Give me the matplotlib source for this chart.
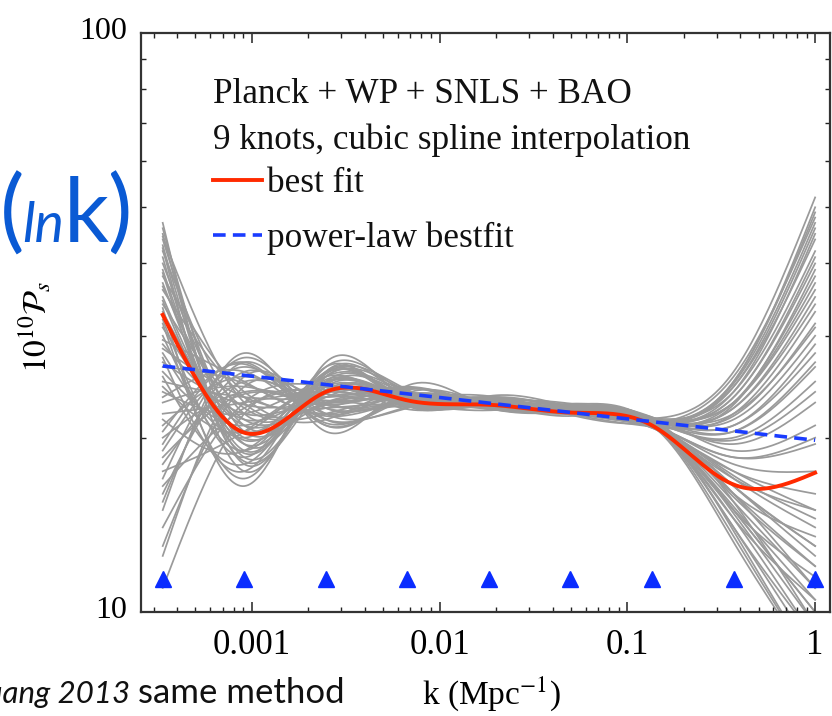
import numpy as np
import matplotlib
matplotlib.use("Agg")
import matplotlib.pyplot as plt
import matplotlib.transforms as mtransforms
from matplotlib.ticker import LogLocator, NullFormatter, FixedLocator, FixedFormatter

# knot positions, ln k  (9 knots)
knot_lnk = [-8, -7, -6, -5, -4, -3, -2, -1, 0]

# best fit knot values, 10^10 P_s
best_fit = [32.6, 20.4, 24.0, 23.2, 22.8, 22.1, 21.0, 16.6, 17.4]

# power-law bestfit, end points
powerlaw_k = [np.exp(-8), 1.0]
powerlaw_P = [26.6, 19.8]

# knot values of the sampled curves (grey)
gray_knots = [
    [47.0, 18.0, 25.5, 23.0, 22.8, 22.2, 21.2, 24.5, 46.0],
    [45.0, 18.5, 25.0, 23.4, 22.6, 22.4, 21.0, 16.0, 12.0],
    [43.0, 19.0, 25.8, 22.8, 23.0, 22.0, 21.4, 22.0, 31.0],
    [41.0, 18.2, 24.6, 23.8, 22.9, 22.5, 21.1, 15.0, 10.0],
    [39.0, 19.5, 24.8, 23.2, 23.2, 22.1, 21.3, 25.0, 50.0],
    [37.0, 20.0, 24.2, 23.6, 22.7, 22.6, 21.0, 17.0, 15.0],
    [35.0, 20.5, 25.2, 22.9, 23.1, 22.3, 21.5, 23.0, 36.0],
    [33.0, 21.0, 23.8, 24.0, 22.6, 22.2, 20.9, 14.5, 9.0],
    [31.0, 21.5, 24.0, 23.1, 23.4, 22.7, 21.3, 20.0, 25.0],
    [29.0, 22.0, 23.5, 23.5, 22.9, 22.0, 21.2, 16.5, 13.0],
    [27.0, 22.8, 23.0, 23.3, 23.0, 22.4, 21.6, 24.0, 42.0],
    [25.0, 23.5, 23.2, 22.6, 22.8, 22.5, 21.0, 15.5, 11.0],
    [23.0, 24.5, 22.8, 23.9, 22.5, 22.1, 21.4, 21.0, 28.0],
    [21.0, 25.5, 22.5, 23.0, 23.3, 22.3, 21.1, 18.0, 17.5],
    [19.0, 26.5, 22.0, 24.2, 22.7, 22.6, 21.3, 23.5, 40.0],
    [17.0, 27.5, 21.5, 23.4, 23.0, 22.0, 21.0, 14.0, 8.5],
    [15.5, 27.0, 21.0, 23.7, 22.4, 22.8, 21.5, 22.5, 34.0],
    [16.0, 26.0, 22.0, 22.5, 23.2, 22.2, 20.8, 17.5, 16.0],
    [18.0, 25.0, 22.8, 23.2, 23.6, 21.9, 21.2, 25.5, 48.0],
    [20.0, 24.0, 23.5, 24.5, 22.8, 22.5, 21.4, 16.0, 13.5],
    [22.0, 23.0, 24.0, 23.0, 22.3, 22.9, 21.7, 19.5, 23.0],
    [24.0, 22.0, 24.5, 22.4, 23.0, 22.3, 21.1, 15.0, 11.5],
    [26.0, 21.0, 25.0, 23.6, 23.5, 22.0, 20.9, 22.0, 33.0],
    [28.0, 20.0, 25.5, 24.0, 22.7, 22.6, 21.3, 14.5, 10.5],
    [30.0, 19.0, 26.0, 23.2, 22.9, 22.4, 21.6, 26.0, 52.0],
    [32.0, 18.5, 26.5, 22.7, 23.3, 22.1, 21.0, 17.0, 14.0],
    [34.0, 22.5, 22.0, 23.5, 23.0, 22.7, 21.2, 23.0, 38.0],
    [36.0, 23.5, 21.5, 24.3, 22.5, 22.2, 21.5, 15.5, 9.5],
    [11.0, 22.0, 23.8, 23.1, 22.8, 22.4, 21.3, 20.5, 27.0],
    [13.0, 24.5, 23.0, 22.8, 23.1, 22.0, 21.0, 18.5, 19.5],
    [44.0, 20.5, 24.0, 23.6, 22.6, 22.5, 21.4, 24.5, 44.0],
    [40.0, 21.0, 23.0, 23.3, 23.4, 22.3, 21.1, 16.5, 12.5],
    [15.0, 28.0, 20.5, 24.6, 22.6, 22.4, 21.6, 21.5, 30.0],
    [19.5, 27.0, 21.0, 23.9, 23.0, 22.8, 21.2, 13.5, 8.0],
    [23.5, 26.0, 21.5, 22.6, 22.9, 22.1, 21.5, 23.0, 37.0],
    [27.5, 17.5, 26.5, 23.8, 23.0, 22.3, 20.8, 17.5, 15.0],
    [31.5, 17.0, 26.0, 22.9, 23.6, 22.6, 21.3, 24.0, 45.0],
    [25.5, 18.0, 25.8, 24.2, 22.4, 22.0, 21.0, 15.0, 10.0],
    [21.5, 19.0, 25.0, 23.4, 23.1, 22.9, 21.4, 22.5, 35.0],
    [17.5, 20.5, 24.5, 22.7, 22.8, 22.2, 21.7, 19.0, 21.0],
    [38.0, 24.0, 22.5, 23.0, 23.2, 22.4, 21.1, 14.0, 9.0],
    [42.0, 22.0, 23.5, 24.0, 22.7, 22.6, 21.3, 25.0, 49.0],
    [46.0, 19.5, 24.5, 23.3, 23.0, 22.3, 21.2, 16.0, 11.0],
    [29.5, 25.0, 22.0, 23.7, 22.6, 22.1, 21.5, 21.0, 29.0],
    [33.5, 16.5, 27.0, 23.2, 23.3, 22.5, 21.0, 16.5, 13.0],
    [14.0, 23.0, 24.5, 23.5, 22.9, 22.0, 21.4, 23.5, 41.0],
    [42.5, 17.5, 26.0, 23.4, 22.9, 22.3, 21.1, 18.5, 20.0],
    [36.5, 21.5, 23.0, 23.0, 23.1, 22.5, 21.4, 13.8, 8.0],
    [24.5, 20.5, 25.5, 22.9, 22.7, 22.2, 21.2, 14.8, 9.5],
    [18.5, 23.8, 23.0, 23.8, 22.9, 22.6, 21.3, 15.8, 12.0],
    [12.5, 25.5, 22.5, 23.4, 23.0, 22.1, 21.0, 22.8, 39.0],
    [28.5, 23.5, 22.5, 24.4, 22.5, 22.8, 21.6, 20.5, 26.5],
    [34.5, 19.8, 24.5, 23.0, 23.5, 22.4, 21.2, 24.8, 47.0],
    [20.5, 26.8, 21.2, 23.6, 22.8, 22.3, 21.1, 17.2, 14.5],
    [38.5, 18.8, 25.5, 24.1, 22.8, 21.8, 21.0, 13.2, 8.0],
    [26.5, 24.8, 21.8, 23.2, 23.2, 22.7, 21.5, 21.8, 31.5],
    [16.5, 22.5, 24.2, 22.9, 22.6, 22.4, 21.3, 19.8, 24.0],
    [44.5, 23.0, 22.8, 23.7, 22.6, 22.0, 20.9, 15.2, 10.5],
]

# triangles marking the knots sit at this level
knot_marker_P = 11.4

x_ticks = [0.001, 0.01, 0.1, 1]
x_ticklabels = ["0.001", "0.01", "0.1", "1"]
y_ticks = [10, 100]
y_ticklabels = ["10", "100"]


def cubic_spline(lnk, vals, n_per=40):
    # natural cubic spline through the knots (in ln k, ln P)
    x = np.asarray(lnk, float)
    y = np.log(np.asarray(vals, float))
    m = len(y)
    h = x[1] - x[0]
    A = np.zeros((m, m))
    b = np.zeros(m)
    A[0, 0] = A[-1, -1] = 1
    for i in range(1, m - 1):
        A[i, i - 1:i + 2] = [1, 4, 1]
        b[i] = 6 * (y[i + 1] - 2 * y[i] + y[i - 1]) / h**2
    M = np.linalg.solve(A, b)
    t = np.linspace(0, m - 1, (m - 1) * n_per + 1)
    i = np.minimum(t.astype(int), m - 2)
    u = t - i
    s = (1 - u) * y[i] + u * y[i + 1] + h**2 * (((1 - u)**3 - (1 - u)) * M[i] + (u**3 - u) * M[i + 1]) / 6
    return np.exp(x[0] + t * h), np.exp(s)


plt.rcParams['font.family'] = ['Liberation Serif', 'DejaVu Serif']
plt.rcParams['mathtext.fontset'] = 'stix'

fig = plt.figure(figsize=(8.32, 7.16), dpi=100)
ax = fig.add_axes([141 / 832, 1 - 612 / 716, 689 / 832, 579 / 716])

for row in gray_knots:
    k, P = cubic_spline(knot_lnk, row)
    ax.plot(k, P, color='#9a9a9a', lw=1.25, zorder=1)

k, P = cubic_spline(knot_lnk, best_fit)
ax.plot(k, P, color='#ff2a00', lw=2.8, zorder=3, label='best fit')
ax.plot(powerlaw_k, powerlaw_P, color='#1a3cff', lw=2.6, ls=(0, (3.5, 2)),
        zorder=4, label='power-law bestfit')

knot_k = np.exp(knot_lnk)
ax.plot(knot_k, [knot_marker_P] * len(knot_k), ls='none', marker='^',
        ms=11, color='#0a2cff', zorder=5, clip_on=False)

ax.set_xscale('log')
ax.set_yscale('log')
ax.set_xlim(2.57e-4, 1.2)
ax.set_ylim(10, 100)

ax.xaxis.set_major_locator(FixedLocator(x_ticks))
ax.xaxis.set_major_formatter(FixedFormatter(x_ticklabels))
ax.xaxis.set_minor_locator(LogLocator(base=10, subs=np.arange(2, 10)))
ax.xaxis.set_minor_formatter(NullFormatter())
ax.yaxis.set_major_locator(FixedLocator(y_ticks))
ax.yaxis.set_major_formatter(FixedFormatter(y_ticklabels))
ax.yaxis.set_minor_locator(LogLocator(base=10, subs=np.arange(2, 10)))
ax.yaxis.set_minor_formatter(NullFormatter())

ax.tick_params(which='both', direction='in', top=True, right=True, color='#222222')
ax.tick_params(which='major', length=7, width=1.1)
ax.tick_params(which='minor', length=3.5, width=1.0)
ax.tick_params(axis='x', which='major', labelsize=25, pad=12)
ax.tick_params(axis='y', which='major', labelsize=23, pad=10)
for sp in ax.spines.values():
    sp.set_linewidth(1.6)
    sp.set_color('#333333')

# y tick labels sit a little above their ticks
up = mtransforms.ScaledTranslation(0, 5 / 100, fig.dpi_scale_trans)
for lab in ax.get_yticklabels():
    lab.set_transform(lab.get_transform() + up)

ax.set_xlabel(r'k (Mpc$^{-1}$)', fontsize=24)
ax.xaxis.set_label_coords(0.509, -0.108)
ax.set_ylabel(r'$10^{10}\mathcal{P}_s$', fontsize=24)
ax.yaxis.set_label_coords(-0.127, 0.492)

ax.text(0.1045, 0.893, 'Planck + WP + SNLS + BAO', transform=ax.transAxes,
        fontsize=25.3, va='center', ha='left', color='#111111')
ax.text(0.1045, 0.815, '9 knots, cubic spline interpolation', transform=ax.transAxes,
        fontsize=25.3, va='center', ha='left', color='#111111')
leg = ax.legend(loc='upper left', bbox_to_anchor=(0.1045, 0.768), frameon=False,
                fontsize=25.3, borderpad=0, borderaxespad=0, handlelength=1.4,
                handletextpad=0.15, labelspacing=0.6)
for t in leg.get_texts():
    t.set_color('#111111')

# slide text around the figure
blue = '#0a5ad4'
fig.text(0 / 832, 1 - 242 / 716, '(', fontsize=66, color=blue, family='Lato',
         ha='left', va='baseline')
fig.text(22 / 832, 1 - 242 / 716, 'ln', fontsize=40, color=blue, family='Lato',
         style='italic', ha='left', va='baseline')
fig.text(64 / 832, 1 - 242 / 716, 'k', fontsize=64, color=blue, family='Lato',
         ha='left', va='baseline')
fig.text(107 / 832, 1 - 242 / 716, ')', fontsize=66, color=blue, family='Lato',
         ha='left', va='baseline')

fig.text(130 / 832, 1 - 703 / 716, 'uang 2013', fontsize=22.5, family='Lato',
         style='italic', ha='right', va='baseline', color='#111111')
fig.text(138 / 832, 1 - 703 / 716, 'same method', fontsize=25, family='Lato',
         ha='left', va='baseline', color='#111111')

fig.savefig('out.png', dpi=100)
